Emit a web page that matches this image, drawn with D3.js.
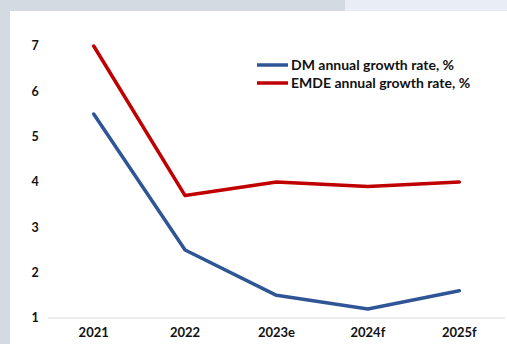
<!DOCTYPE html>
<html>
<head>
<meta charset="utf-8">
<script src="https://cdn.jsdelivr.net/npm/d3@7"></script>
<style>
  body { margin: 0; background: #fff; }
  text { font-family: Lato, "Open Sans", sans-serif; fill: #111; }
</style>
</head>
<body>
<div id="wrapper"></div>
<script>
const years = ["2021", "2022", "2023e", "2024f", "2025f"];
const dmGrowth = [5.5, 2.5, 1.5, 1.2, 1.6];
const emdeGrowth = [7.0, 3.7, 4.0, 3.9, 4.0];
const yTicks = [1, 2, 3, 4, 5, 6, 7];
const seriesNames = ["DM annual growth rate, %", "EMDE annual growth rate, %"];
const seriesColors = ["#2F5597", "#C00000"];

function draw() {
    const width = 507, height = 344;
    const svg = d3.select("#wrapper").append("svg")
        .attr("width", width)
        .attr("height", height);

    // frame bands
    svg.append("rect").attr("x", 0).attr("y", 0).attr("width", 345).attr("height", 11).attr("fill", "#d3dae2");
    svg.append("rect").attr("x", 345).attr("y", 0).attr("width", 162).attr("height", 11).attr("fill", "#e8edf6");
    svg.append("rect").attr("x", 0).attr("y", 0).attr("width", 10).attr("height", height).attr("fill", "#d3dae2");

    const xScale = d3.scaleBand().domain(years).range([48, 505]);
    const yScale = d3.scaleLinear().domain([1, 7]).range([318, 46]);

    // baseline
    svg.append("line")
        .attr("x1", 48).attr("x2", 505)
        .attr("y1", yScale(1)).attr("y2", yScale(1))
        .attr("stroke", "#d9d9d9").attr("stroke-width", 1);

    // y labels
    svg.selectAll(".ytick").data(yTicks).enter().append("text")
        .attr("class", "ytick")
        .attr("x", 35)
        .attr("y", d => yScale(d))
        .attr("dy", "0.35em")
        .attr("text-anchor", "middle")
        .style("font-size", "12.5px")
        .style("font-weight", "bold")
        .text(d => d);

    // x labels
    svg.selectAll(".xtick").data(years).enter().append("text")
        .attr("class", "xtick")
        .attr("x", d => xScale(d) + xScale.bandwidth() / 2)
        .attr("y", 332)
        .attr("dy", "0.35em")
        .attr("text-anchor", "middle")
        .style("font-size", "13px")
        .style("font-weight", "bold")
        .text(d => d);

    const line = d3.line()
        .x((d, i) => xScale(years[i]) + xScale.bandwidth() / 2)
        .y(d => yScale(d));

    [dmGrowth, emdeGrowth].forEach((series, k) => {
        svg.append("path")
            .attr("d", line(series))
            .attr("fill", "none")
            .attr("stroke", seriesColors[k])
            .attr("stroke-width", 3.5)
            .attr("stroke-linejoin", "round")
            .attr("stroke-linecap", "round");
    });

    // legend
    const legend = svg.append("g").attr("transform", "translate(257,65)");
    seriesNames.forEach((name, i) => {
        legend.append("line")
            .attr("x1", 0).attr("x2", 31)
            .attr("y1", i * 18).attr("y2", i * 18)
            .attr("stroke", seriesColors[i])
            .attr("stroke-width", 3.5);
        legend.append("text")
            .attr("x", 34)
            .attr("y", i * 18)
            .attr("dy", "0.35em")
            .style("font-size", "14px")
            .style("font-weight", "bold")
            .text(name);
    });
}

draw();
</script>
</body>
</html>
